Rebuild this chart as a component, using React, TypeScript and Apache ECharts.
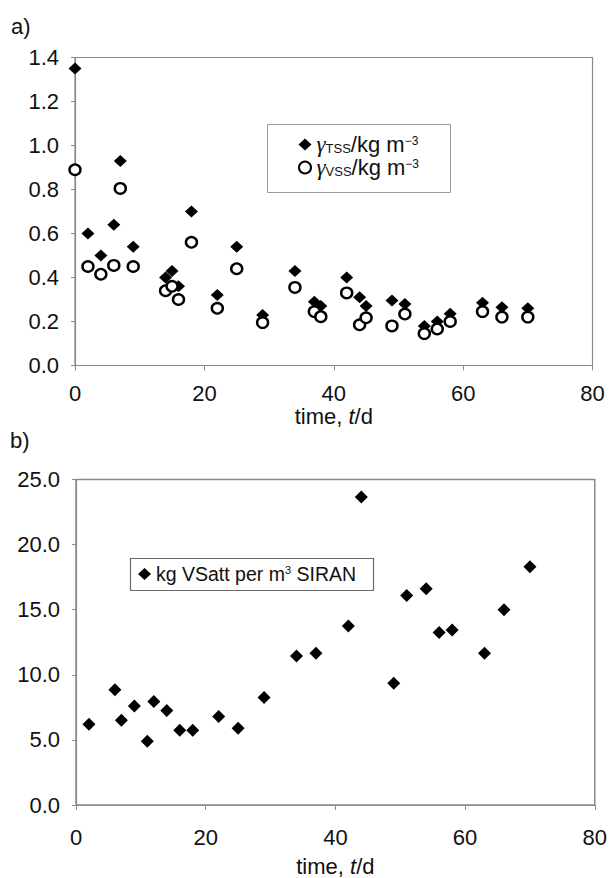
import React, { useEffect, useRef } from "react";
import * as echarts from "echarts";

// ---- data (panel a) ----
const daysA = [0, 2, 4, 6, 7, 9, 14, 15, 16, 18, 22, 25, 29, 34, 37, 38, 42, 44, 45, 49, 51, 54, 56, 58, 63, 66, 70];
const tssValues = [1.35, 0.6, 0.5, 0.64, 0.93, 0.54, 0.4, 0.43, 0.36, 0.7, 0.32, 0.54, 0.23, 0.43, 0.29, 0.27, 0.4, 0.31, 0.27, 0.295, 0.28, 0.18, 0.2, 0.235, 0.285, 0.265, 0.26];
const vssValues = [0.89, 0.45, 0.415, 0.455, 0.805, 0.45, 0.34, 0.36, 0.3, 0.56, 0.26, 0.44, 0.195, 0.355, 0.245, 0.222, 0.33, 0.185, 0.217, 0.18, 0.234, 0.145, 0.166, 0.2, 0.245, 0.22, 0.22];

// ---- data (panel b) ----
const daysB = [2, 6, 7, 9, 11, 12, 14, 16, 18, 22, 25, 29, 34, 37, 42, 44, 49, 51, 54, 56, 58, 63, 66, 70];
const vsattValues = [6.2, 8.85, 6.5, 7.6, 4.9, 7.95, 7.25, 5.75, 5.75, 6.8, 5.9, 8.25, 11.45, 11.65, 13.75, 23.65, 9.35, 16.1, 16.6, 13.25, 13.45, 11.65, 15.0, 18.3];

const xTicks = [0, 20, 40, 60, 80];

const FONT = "Liberation Sans";
const AXIS_GREY = "#8a8a8a";

export default function App() {
  const ref = useRef<HTMLDivElement>(null);
  useEffect(() => {
    if (!ref.current) return;
    const chart = echarts.init(ref.current, undefined, { renderer: "svg" });

    const xAxisBase = (gridIndex: number, labelMargin: number, nameGap: number) => ({
      type: "value",
      gridIndex,
      min: xTicks[0],
      max: xTicks[xTicks.length - 1],
      interval: 20,
      axisLine: { show: true, onZero: false, lineStyle: { color: AXIS_GREY, width: 1.2 } },
      axisTick: { show: true, length: 5, lineStyle: { color: AXIS_GREY } },
      splitLine: { show: false },
      axisLabel: { color: "#111", fontFamily: FONT, fontSize: 22, margin: labelMargin },
      name: "{n|time, }{i|t}{n|/d}",
      nameLocation: "middle",
      nameGap,
      nameTextStyle: {
        rich: {
          n: { fontFamily: FONT, fontSize: 22, color: "#111" },
          i: { fontFamily: FONT, fontSize: 22, fontStyle: "italic", color: "#111" },
        },
      },
    });

    const yAxisBase = (gridIndex: number, max: number, interval: number) => ({
      type: "value",
      gridIndex,
      min: 0,
      max,
      interval,
      axisLine: { show: true, lineStyle: { color: AXIS_GREY, width: 1.2 } },
      axisTick: { show: true, length: 4, lineStyle: { color: AXIS_GREY } },
      splitLine: { show: false },
      axisLabel: {
        color: "#111",
        fontFamily: FONT,
        fontSize: 22,
        margin: 16,
        formatter: (v: number) => v.toFixed(1),
      },
    });

    const legendRich = {
      g: { fontFamily: "Liberation Serif", fontStyle: "italic", fontSize: 23, color: "#111", lineHeight: 20, verticalAlign: "middle" },
      sub: { fontFamily: FONT, fontSize: 13, color: "#111", lineHeight: 20, verticalAlign: "bottom" },
      t: { fontFamily: FONT, fontSize: 22, color: "#111", lineHeight: 20, verticalAlign: "middle" },
      sup: { fontFamily: FONT, fontSize: 12, color: "#111", lineHeight: 20, verticalAlign: "top" },
    };

    chart.setOption({
      animation: false,
      backgroundColor: "#fff",
      grid: [
        { left: 75, top: 57.5, width: 517.5, height: 308, show: true, borderColor: AXIS_GREY, borderWidth: 1.2 },
        { left: 76, top: 479.5, width: 519, height: 326, show: true, borderColor: AXIS_GREY, borderWidth: 1.5 },
      ],
      xAxis: [xAxisBase(0, 17, 37), xAxisBase(1, 21, 50)],
      yAxis: [yAxisBase(0, 1.4, 0.2), yAxisBase(1, 25, 5)],
      legend: [
        {
          left: 298,
          top: 133,
          orient: "vertical",
          itemGap: 0,
          itemWidth: 13,
          itemHeight: 12,
          padding: 0,
          data: [
            { name: "TSS", icon: "diamond" },
            { name: "VSS", icon: "circle" },
          ],
          formatter: (name: string) =>
            name === "TSS"
              ? "{g|γ}{sub|TSS}{t|/kg m}{sup|−3}"
              : "{g|γ}{sub|VSS}{t|/kg m}{sup|−3}",
          textStyle: { rich: legendRich },
        },
        {
          left: 138,
          top: 564,
          orient: "vertical",
          itemWidth: 13,
          itemHeight: 12,
          padding: 0,
          data: [{ name: "VSatt", icon: "diamond" }],
          formatter: () => "{t|kg VSatt per m}{sup|3}{t| SIRAN}",
          textStyle: {
            rich: {
              t: { fontFamily: FONT, fontSize: 19.5, color: "#111", lineHeight: 20, verticalAlign: "middle" },
              sup: { fontFamily: FONT, fontSize: 11, color: "#111", lineHeight: 20, verticalAlign: "top" },
            },
          },
        },
      ],
      graphic: [
        { type: "text", left: 11, top: 15, style: { text: "a)", font: `22px "${FONT}"`, fill: "#111" } },
        { type: "text", left: 10, top: 429, style: { text: "b)", font: `22px "${FONT}"`, fill: "#111" } },
        {
          type: "rect",
          shape: { x: 267.5, y: 124.5, width: 183, height: 68 },
          style: { fill: "none", stroke: "#9a9a9a", lineWidth: 1 },
          z: 10,
        },
        {
          type: "rect",
          shape: { x: 130.5, y: 558.5, width: 243, height: 32 },
          style: { fill: "none", stroke: "#6a6a6a", lineWidth: 1.2 },
          z: 10,
        },
      ],
      series: [
        {
          name: "TSS",
          type: "scatter",
          xAxisIndex: 0,
          yAxisIndex: 0,
          symbol: "diamond",
          symbolSize: [13, 12],
          itemStyle: { color: "#000", opacity: 1 },
          data: daysA.map((d, i) => [d, tssValues[i]]),
          z: 2,
        },
        {
          name: "VSS",
          type: "scatter",
          xAxisIndex: 0,
          yAxisIndex: 0,
          symbol: "circle",
          symbolSize: [11, 10.5],
          itemStyle: { color: "#fff", borderColor: "#000", borderWidth: 2.4, opacity: 1 },
          data: daysA.map((d, i) => [d, vssValues[i]]),
          z: 3,
        },
        {
          name: "VSatt",
          type: "scatter",
          xAxisIndex: 1,
          yAxisIndex: 1,
          symbol: "diamond",
          symbolSize: [13, 13],
          itemStyle: { color: "#000", opacity: 1 },
          data: daysB.map((d, i) => [d, vsattValues[i]]),
        },
      ],
    });

    return () => chart.dispose();
  }, []);

  return (
    <div
      ref={ref}
      style={{ position: "absolute", left: 0, top: 0, width: 610, height: 878, background: "#fff" }}
    />
  );
}
